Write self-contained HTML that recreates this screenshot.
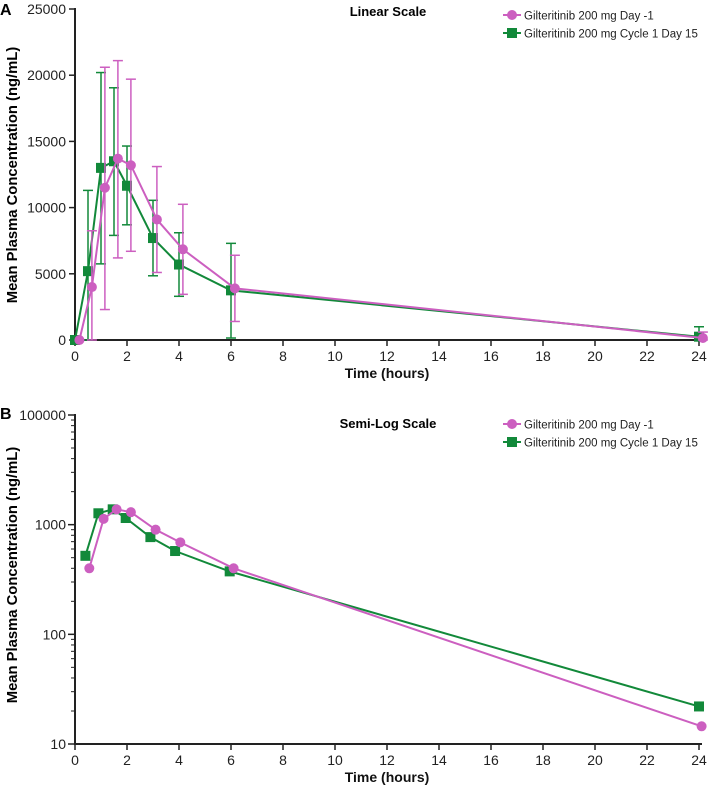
<!DOCTYPE html>
<html><head><meta charset="utf-8"><style>
html,body{margin:0;padding:0;background:#fff;}
svg{display:block;font-family:"Liberation Sans",Arial,sans-serif;}
</style></head><body>
<svg id="c" width="709" height="795" xmlns="http://www.w3.org/2000/svg"></svg>
<script>
const xTicks=[0,2,4,6,8,10,12,14,16,18,20,22,24];
const linTicks=[0,5000,10000,15000,20000,25000];
const logTicks=[10,100,1000,10000];
const logLabels=["10","100","1000","100000"];
const seriesNames=["Gilteritinib 200 mg Day -1","Gilteritinib 200 mg Cycle 1 Day 15"];
// Panel A
const aPinkT=[0.17,0.65,1.15,1.65,2.15,3.15,4.15,6.15,24.15];
const aPinkV=[0,4000,11500,13700,13200,9100,6850,3900,150];
const aPinkHi=[0,8250,20600,21100,19700,13100,10250,6400,600];
const aPinkLo=[0,0,2300,6200,6700,5100,3450,1400,0];
const aGreenT=[0,0.5,1,1.5,2,3,4,6,24];
const aGreenV=[0,5200,13000,13500,11650,7700,5700,3750,250];
const aGreenHi=[0,11300,20200,19050,14650,10550,8100,7300,1000];
const aGreenLo=[0,0,5750,7900,8700,4850,3300,150,0];
// Panel B
const bPinkT=[0.55,1.1,1.6,2.15,3.1,4.05,6.1,24.1];
const bPinkV=[400,1130,1380,1300,900,690,400,14.5];
const bGreenT=[0.4,0.9,1.45,1.95,2.9,3.85,5.95,24];
const bGreenV=[520,1270,1380,1150,770,575,375,22];

const PINK="#cc5fc0",GREEN="#12893a",AX="#222";
const svg=document.getElementById('c');
const NS="http://www.w3.org/2000/svg";
function mk(t,a,p){const e=document.createElementNS(NS,t);for(const k in a)e.setAttribute(k,a[k]);(p||svg).appendChild(e);return e;}
const X0=75,X1=699;
const xs=t=>X0+(X1-X0)*t/24;
const yA=v=>340-(340-9)*v/25000;
const yB=v=>744-(744-415)*(Math.log10(v)-1)/3;

function xAxis(y,name,title){
  const g=mk('g',{});
  mk('line',{x1:X0,y1:y,x2:X1+3,y2:y,stroke:AX,'stroke-width':2},g);
  xTicks.forEach(t=>{mk('line',{x1:xs(t),y1:y,x2:xs(t),y2:y+6,stroke:AX,'stroke-width':1.5},g);
    const tx=mk('text',{x:xs(t),y:y+21,'text-anchor':'middle','font-size':14,fill:'#222'},g);tx.textContent=t;});
  const tt=mk('text',{x:387,y:y+38,'text-anchor':'middle','font-size':14,'font-weight':'bold',fill:'#111'},g);
  tt.textContent=title;
}
function legend(y,name){
  const g=mk('g',{});
  [[PINK,'c'],[GREEN,'s']].forEach((s,i)=>{
    const yy=y+i*18;
    const e=mk('g',{},g);
    mk('line',{x1:503,y1:yy,x2:521,y2:yy,stroke:s[0],'stroke-width':2},e);
    if(s[1]=='c')mk('circle',{cx:512,cy:yy,r:5,fill:s[0]},e);else mk('rect',{x:507,y:yy-5,width:10,height:10,fill:s[0]},e);
    const t=mk('text',{x:524,y:yy+4.5,'font-size':11.5,fill:'#222'},e);t.textContent=seriesNames[i];});
}
function series(T,V,Y,col,shape,name,hi,lo){
  const g=mk('g',{});
  if(hi){T.forEach((t,i)=>{const x=xs(t);if(hi[i]<=V[i])return;
    mk('line',{x1:x,y1:Y(hi[i]),x2:x,y2:Y(lo[i]),stroke:col,'stroke-width':1.5},g);
    mk('line',{x1:x-5,y1:Y(hi[i]),x2:x+5,y2:Y(hi[i]),stroke:col,'stroke-width':1.5},g);
    mk('line',{x1:x-5,y1:Y(lo[i]),x2:x+5,y2:Y(lo[i]),stroke:col,'stroke-width':1.5},g);});}
  mk('polyline',{points:T.map((t,i)=>xs(t)+','+Y(V[i])).join(' '),fill:'none',stroke:col,'stroke-width':2},g);
  T.forEach((t,i)=>{const x=xs(t),y=Y(V[i]);let m;
    if(shape=='c')m=mk('circle',{cx:x,cy:y,r:5,fill:col},g);else m=mk('rect',{x:x-5,y:y-5,width:10,height:10,fill:col},g);
    });
}
(function(){
  const g=mk('g',{});
  mk('line',{x1:X0,y1:8,x2:X0,y2:341,stroke:AX,'stroke-width':2},g);
  linTicks.forEach(v=>{mk('line',{x1:X0-6,y1:yA(v),x2:X0,y2:yA(v),stroke:AX,'stroke-width':1.5},g);
    const t=mk('text',{x:X0-9,y:yA(v)+5,'text-anchor':'end','font-size':14,fill:'#222'},g);t.textContent=v;});
})();
xAxis(340,'x-axis-linear','Time (hours)');
let t;
t=mk('text',{x:0,y:15,'font-size':16,'font-weight':'bold'});t.textContent='A';
t=mk('text',{x:388,y:16,'text-anchor':'middle','font-size':13,'font-weight':'bold'});t.textContent='Linear Scale';
t=mk('text',{x:0,y:0,'text-anchor':'middle','font-size':14.8,'font-weight':'bold',transform:'translate(17,175) rotate(-90)'});t.textContent='Mean Plasma Concentration (ng/mL)';
legend(15,'legend-linear');
series(aGreenT,aGreenV,yA,GREEN,'s','series-cycle1-day15-linear',aGreenHi,aGreenLo);
series(aPinkT,aPinkV,yA,PINK,'c','series-day-1-linear',aPinkHi,aPinkLo);

(function(){
  const g=mk('g',{});
  mk('line',{x1:X0,y1:414,x2:X0,y2:745,stroke:AX,'stroke-width':2},g);
  for(let d=1;d<4;d++)for(let k=2;k<10;k++){const v=k*Math.pow(10,d);const y=yB(v);
    mk('line',{x1:X0-4,y1:y,x2:X0,y2:y,stroke:AX,'stroke-width':1},g);}
  logTicks.forEach((v,i)=>{mk('line',{x1:X0-7,y1:yB(v),x2:X0,y2:yB(v),stroke:AX,'stroke-width':1.5},g);
    const t=mk('text',{x:X0-9,y:yB(v)+5,'text-anchor':'end','font-size':14,fill:'#222'},g);t.textContent=logLabels[i];});
})();
xAxis(744,'x-axis-log','Time (hours)');
t=mk('text',{x:0,y:419,'font-size':16,'font-weight':'bold'});t.textContent='B';
t=mk('text',{x:388,y:428,'text-anchor':'middle','font-size':13,'font-weight':'bold'});t.textContent='Semi-Log Scale';
t=mk('text',{x:0,y:0,'text-anchor':'middle','font-size':14.8,'font-weight':'bold',transform:'translate(17,575) rotate(-90)'});t.textContent='Mean Plasma Concentration (ng/mL)';
legend(424,'legend-log');
series(bGreenT,bGreenV,yB,GREEN,'s','series-cycle1-day15-log');
series(bPinkT,bPinkV,yB,PINK,'c','series-day-1-log');
</script>
</body></html>
